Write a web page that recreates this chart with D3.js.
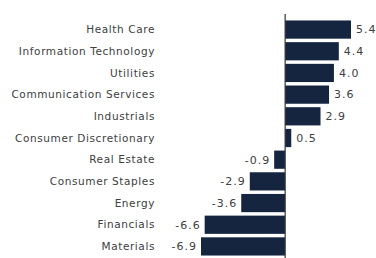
<!DOCTYPE html>
<html>
<head>
<meta charset="utf-8">
<script src="https://cdn.jsdelivr.net/npm/d3@7"></script>
<style>
  body { margin: 0; background: #fff; }
  svg text { font-family: "DejaVu Sans", sans-serif; fill: #404040; }
</style>
</head>
<body>
<div id="chart"></div>
<script>
// sector returns, sorted high to low
var sectors = ["Health Care", "Information Technology", "Utilities", "Communication Services",
    "Industrials", "Consumer Discretionary", "Real Estate", "Consumer Staples",
    "Energy", "Financials", "Materials"];
var returns = [5.4, 4.4, 4.0, 3.6, 2.9, 0.5, -0.9, -2.9, -3.6, -6.6, -6.9];

const width = 376;
const height = 258;

const svg = d3.select("#chart")
    .append("svg")
    .attr("width", width)
    .attr("height", height);

const x = d3.scaleLinear()
    .domain([d3.min(returns), d3.max(returns)])
    .range([201, 351]);

const y = d3.scaleBand()
    .domain(sectors)
    .range([17, 259])
    .padding(0.16);

const rows = sectors.map((s, i) => ({ name: s, value: returns[i] }));

// bars
svg.selectAll(".bar")
    .data(rows)
    .enter().append("rect")
    .attr("class", "bar")
    .attr("x", d => x(Math.min(0, d.value)))
    .attr("y", d => y(d.name))
    .attr("width", d => Math.abs(x(d.value) - x(0)))
    .attr("height", y.bandwidth())
    .attr("fill", "#152540");

// zero line
svg.append("line")
    .attr("x1", x(0)).attr("x2", x(0))
    .attr("y1", 14).attr("y2", height)
    .attr("stroke", "#333")
    .attr("stroke-width", 1.2);

// category names
svg.selectAll(".name")
    .data(rows)
    .enter().append("text")
    .attr("class", "name")
    .attr("x", 155)
    .attr("y", d => y(d.name) + y.bandwidth() / 2)
    .attr("dy", "0.35em")
    .attr("text-anchor", "end")
    .style("font-size", "10.5px")
    .style("letter-spacing", "0.6px")
    .text(d => d.name);

// value labels
svg.selectAll(".val")
    .data(rows)
    .enter().append("text")
    .attr("class", "val")
    .attr("x", d => d.value >= 0 ? x(d.value) + 5 : x(d.value) - 4)
    .attr("y", d => y(d.name) + y.bandwidth() / 2)
    .attr("dy", "0.35em")
    .attr("text-anchor", d => d.value >= 0 ? "start" : "end")
    .style("font-size", "11px")
    .style("letter-spacing", "1px")
    .text(d => d.value.toFixed(1));
</script>
</body>
</html>
